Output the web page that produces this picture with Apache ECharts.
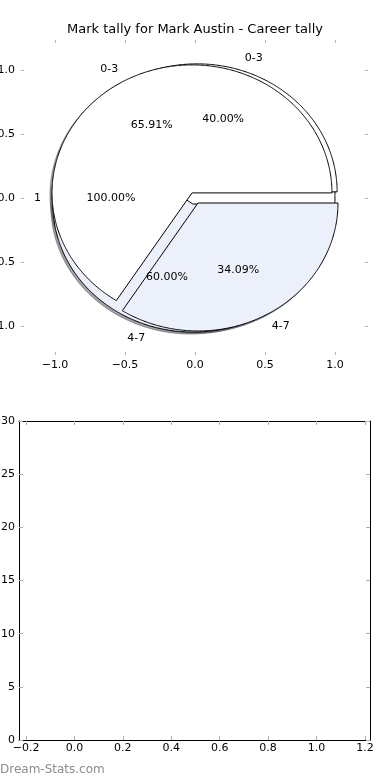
<!DOCTYPE html>
<html><head><meta charset="utf-8">
<script src="https://cdn.jsdelivr.net/npm/echarts@6/dist/echarts.min.js"></script>
<style>html,body{margin:0;padding:0;background:#fff}#c{width:390px;height:780px}</style>
</head><body><div id="c"></div>
<script>
// ---- data ----
const chartTitle = 'Mark tally for Mark Austin - Career tally';
const watermark = 'Dream-Stats.com';
const pie1Labels = ['1'];
const pie1Values = [100];
const pie2Labels = ['0-3', '4-7'];
const pie2Values = [40, 60];
const pie3Labels = ['0-3', '4-7'];
const pie3Values = [65.91, 34.09];
const pieTicks = [-1.0, -0.5, 0.0, 0.5, 1.0];
const barXTicks = [-0.2, 0.0, 0.2, 0.4, 0.6, 0.8, 1.0, 1.2];
const barYTicks = [0, 5, 10, 15, 20, 25, 30];

// ---- styling ----
const FONT = '"DejaVu Sans", sans-serif';
const WHITE = '#ffffff', BLUE = '#ebf0fb';
const TICK = '#b0b0b0';
const pies = [
  {labels: pie1Labels, values: pie1Values, explode: [0], colors: [WHITE]},
  {labels: pie2Labels, values: pie2Values, explode: [0.05, 0.05], colors: [WHITE, BLUE]},
  {labels: pie3Labels, values: pie3Values, explode: [0.045, 0.045], colors: [WHITE, BLUE]}
];
const wedges = [];
pies.forEach((p, pi) => {
  const total = p.values.reduce((a, b) => a + b, 0);
  let cum = 0;
  p.values.forEach((v, i) => {
    const t1 = 360 * cum / total; cum += v; const t2 = 360 * cum / total;
    wedges.push({pie: pi, t1, t2, value: v, frac: v / total, label: p.labels[i], explode: p.explode[i], color: p.colors[i]});
  });
});

function shadowColor(hex) {
  const r = parseInt(hex.slice(1, 3), 16), g = parseInt(hex.slice(3, 5), 16), b = parseInt(hex.slice(5, 7), 16);
  return 'rgba(' + Math.round(0.3 * r) + ',' + Math.round(0.3 * g) + ',' + Math.round(0.3 * b) + ',0.5)';
}
function fmt(v, d) { return (v < -1e-9 ? '\u2212' : '') + Math.abs(v).toFixed(d); }

function renderWedge(params, api) {
  const w = wedges[params.dataIndex];
  const mid = (w.t1 + w.t2) / 2 * Math.PI / 180;
  const cx = w.explode * Math.cos(mid), cy = w.explode * Math.sin(mid);
  const full = (w.t2 - w.t1) >= 359.999;
  const pts = full ? [] : [api.coord([cx, cy])];
  const n = Math.max(4, Math.ceil((w.t2 - w.t1) * 2));
  for (let k = 0; k <= n; k++) {
    const a = (w.t1 + (w.t2 - w.t1) * k / n) * Math.PI / 180;
    pts.push(api.coord([cx + Math.cos(a), cy + Math.sin(a)]));
  }
  const sh = pts.map(p => [p[0] - 2, p[1] + 2]);
  const sc = shadowColor(w.color);
  const lab = api.coord([cx + 1.1 * Math.cos(mid), cy + 1.1 * Math.sin(mid)]);
  const pct = api.coord([cx + 0.6 * Math.cos(mid), cy + 0.6 * Math.sin(mid)]);
  const la = Math.cos(mid) > 0 ? 'left' : 'right';
  return {type: 'group', children: [
    {type: 'polygon', shape: {points: sh}, style: {fill: sc, stroke: sc, lineWidth: 1}, z2: 1, silent: true},
    {type: 'polygon', shape: {points: pts}, style: {fill: w.color, stroke: '#000', lineWidth: 1}, z2: 10 + w.pie},
    {type: 'text', x: lab[0], y: lab[1], z2: 100, style: {text: w.label, fill: '#000', font: '11px ' + FONT, align: la, verticalAlign: 'middle', textAlign: la, textVerticalAlign: 'middle'}},
    {type: 'text', x: pct[0], y: pct[1], z2: 100, style: {text: (w.frac * 100).toFixed(2) + '%', fill: '#000', font: '11px ' + FONT, align: 'center', verticalAlign: 'middle', textAlign: 'center', textVerticalAlign: 'middle'}}
  ]};
}

const lbl = (vals, d, margin) => ({customValues: vals, formatter: v => fmt(v, d), margin: margin, fontSize: 11, color: '#000', fontFamily: FONT});
const tk = (vals, len) => ({show: true, inside: true, length: len, customValues: vals, lineStyle: {color: TICK, width: 1}});
const frame = {show: true, onZero: false, lineStyle: {color: '#000', width: 1}};
const noLine = {show: false, onZero: false};

const chart = echarts.init(document.getElementById('c'), null, {renderer: 'canvas'});
chart.setOption({
  animation: false,
  backgroundColor: '#fff',
  grid: [
    {left: 21, top: 40, width: 347, height: 315, containLabel: false, outerBoundsMode: 'none'},
    {left: 19, top: 421, width: 351, height: 319, containLabel: false, outerBoundsMode: 'none'}
  ],
  xAxis: [
    {gridIndex: 0, type: 'value', min: -1.243, max: 1.236, position: 'bottom', axisLine: noLine, axisTick: tk(pieTicks, 3), axisLabel: lbl(pieTicks, 1, 5), splitLine: {show: false}},
    {gridIndex: 0, type: 'value', min: -1.243, max: 1.236, position: 'top', axisLine: noLine, axisTick: tk(pieTicks, 3), axisLabel: {show: false}, splitLine: {show: false}},
    {gridIndex: 1, type: 'value', min: -0.229, max: 1.221, position: 'bottom', axisLine: frame, axisTick: tk(barXTicks, 4), axisLabel: lbl(barXTicks, 1, 3), splitLine: {show: false}},
    {gridIndex: 1, type: 'value', min: -0.229, max: 1.221, position: 'top', axisLine: frame, axisTick: tk(barXTicks, 4), axisLabel: {show: false}, splitLine: {show: false}}
  ],
  yAxis: [
    {gridIndex: 0, type: 'value', min: -1.227, max: 1.234, position: 'left', axisLine: noLine, axisTick: tk(pieTicks, 3), axisLabel: lbl(pieTicks, 1, 6), splitLine: {show: false}},
    {gridIndex: 0, type: 'value', min: -1.227, max: 1.234, position: 'right', axisLine: noLine, axisTick: tk(pieTicks, 3), axisLabel: {show: false}, splitLine: {show: false}},
    {gridIndex: 1, type: 'value', min: 0, max: 30, interval: 5, position: 'left', axisLine: frame, axisTick: tk(barYTicks, 4), axisLabel: lbl(barYTicks, 0, 4), splitLine: {show: false}},
    {gridIndex: 1, type: 'value', min: 0, max: 30, interval: 5, position: 'right', axisLine: frame, axisTick: tk(barYTicks, 4), axisLabel: {show: false}, splitLine: {show: false}}
  ],
  series: [{
    type: 'custom', coordinateSystem: 'cartesian2d', xAxisIndex: 0, yAxisIndex: 0,
    clip: false, renderItem: renderWedge,
    data: wedges.map(w => [0, 0, w.value]), encode: {x: 0, y: 1}
  }],
  graphic: [
    {type: 'text', x: 195, y: 30, style: {text: chartTitle, font: '13px ' + FONT, fill: '#000', align: 'center', verticalAlign: 'middle'}},
    {type: 'text', x: 0, y: 770, style: {text: watermark, font: '12px ' + FONT, fill: '#8c8c8c', align: 'left', verticalAlign: 'middle'}}
  ]
});
</script>
</body></html>
